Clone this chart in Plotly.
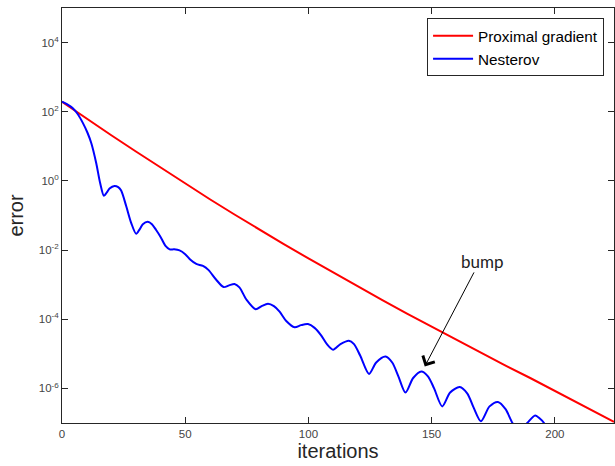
import math
import plotly.graph_objects as go

# ---- data ----
prox_iter = [0, 10, 20, 30, 40, 50, 60, 70, 80, 90, 100, 110, 120, 130, 140,
             150, 160, 170, 180, 190, 200, 210, 220, 224]
prox_err = [1.95e2, 6.31e1, 2.09e1, 7.08, 2.45, 8.32e-1, 2.95e-1, 1.07e-1,
            3.89e-2, 1.48e-2, 5.75e-3, 2.24e-3, 8.91e-4, 3.55e-4, 1.45e-4,
            6.03e-5, 2.51e-5, 1.07e-5, 4.57e-6, 2.00e-6, 8.51e-7, 3.63e-7,
            1.51e-7, 1.07e-7]

nest_iter = [0, 2, 4.4, 6.5, 8.5, 10.3, 11.9, 13.9, 15.5, 17.0, 18.2, 19.3,
             21.3, 22.8, 24.0, 26.1, 28.1, 30.1, 31.5, 32.8, 34.8, 36.5, 38.2,
             40, 42, 43.7, 45.5, 47.7, 50, 52, 54.5, 57.2, 59.5, 62.5, 65.6,
             67.8, 70, 72, 75, 78.6, 81, 83.6, 86, 88.3, 91, 94.4, 97, 99.8,
             102.5, 105, 107.5, 110, 113, 116.4, 118.5, 121, 124.6, 127.5,
             131.3, 134, 136.5, 139.4, 142.5, 145.8, 148.5, 151, 154.3, 157.5,
             161.4, 164.5, 167, 170, 173.5, 176.9, 180, 182.8, 185.5, 188.8,
             192, 194, 195.6, 198]
nest_err = [1.95e2, 1.66e2, 1.26e2, 8.32e1, 4.68e1, 2.51e1, 1.23e1, 3.24,
            8.51e-1, 3.72e-1, 4.68e-1, 6.03e-1, 7.16e-1, 6.61e-1, 5.25e-1,
            1.82e-1, 6.03e-2, 2.95e-2, 3.98e-2, 5.62e-2, 6.61e-2, 5.62e-2,
            3.80e-2, 2.40e-2, 1.32e-2, 1.05e-2, 1.05e-2, 9.77e-3, 7.59e-3,
            5.37e-3, 3.98e-3, 3.47e-3, 2.63e-3, 1.41e-3, 8.51e-4, 9.55e-4,
            1.05e-3, 8.32e-4, 3.55e-4, 1.95e-4, 2.40e-4, 2.82e-4, 2.40e-4,
            1.66e-4, 8.91e-5, 5.89e-5, 6.76e-5, 7.24e-5, 5.62e-5, 3.55e-5,
            1.91e-5, 1.32e-5, 1.91e-5, 2.40e-5, 1.91e-5, 8.91e-6, 2.63e-6,
            5.62e-6, 8.32e-6, 5.62e-6, 2.24e-6, 7.59e-7, 2.00e-6, 3.09e-6,
            2.24e-6, 1.00e-6, 3.02e-7, 7.59e-7, 1.10e-6, 7.08e-7, 2.82e-7,
            1.12e-7, 3.02e-7, 4.07e-7, 2.51e-7, 1.00e-7, 5.62e-8, 1.00e-7,
            1.66e-7, 1.32e-7, 1.00e-7, 3.98e-8]

x_ticks = [0, 50, 100, 150, 200]
y_tick_vals = [1e-6, 1e-4, 1e-2, 1e0, 1e2, 1e4]
y_tick_text = ["10<sup>-6</sup>", "10<sup>-4</sup>", "10<sup>-2</sup>",
               "10<sup>0</sup>", "10<sup>2</sup>", "10<sup>4</sup>"]

# annotation: bump arrow tip, arrow tail and label position
bump_tip = (147.2, 4.3e-6)
bump_tail = (167.5, 2.5e-3)
bump_text = (170.6, 4.7e-3)

fig = go.Figure()
fig.add_trace(go.Scatter(x=prox_iter, y=prox_err, mode="lines",
                         name="Proximal gradient",
                         line=dict(color="#ff0000", width=2)))
fig.add_trace(go.Scatter(x=nest_iter, y=nest_err, mode="lines",
                         name="Nesterov",
                         line=dict(color="#0000ff", width=2, shape="spline",
                                   smoothing=0.8)))

fig.add_annotation(x=bump_tip[0], y=math.log10(bump_tip[1]),
                   ax=bump_tail[0], ay=math.log10(bump_tail[1]),
                   xref="x", yref="y", axref="x", ayref="y",
                   showarrow=True, arrowhead=4, arrowsize=2.6,
                   arrowwidth=1, arrowcolor="#000000", text="")
fig.add_annotation(x=bump_text[0], y=math.log10(bump_text[1]),
                   xref="x", yref="y", text="bump", showarrow=False,
                   font=dict(family="Lato", size=17, color="#222222"))

axis_common = dict(showline=True, linecolor="#262626", linewidth=1,
                   mirror="ticks", ticks="inside", ticklen=6,
                   tickcolor="#262626", showgrid=False, zeroline=False,
                   tickfont=dict(family="Liberation Sans, Arial", size=11.5,
                                 color="#444444"))

fig.update_layout(
    width=615, height=466,
    margin=dict(l=62, r=1, t=8, b=43),
    paper_bgcolor="white", plot_bgcolor="white",
    xaxis=dict(range=[0, 224], tickvals=x_ticks,
               title=dict(text="iterations", standoff=0,
                          font=dict(family="Liberation Sans, Arial", size=20,
                                    color="#262626")),
               **axis_common),
    yaxis=dict(type="log", range=[-7, 5], tickvals=y_tick_vals,
               ticktext=y_tick_text,
               title=dict(text="error", standoff=9,
                          font=dict(family="Liberation Sans, Arial", size=20,
                                    color="#262626")),
               **axis_common),
    legend=dict(x=0.982, y=0.975, xanchor="right", yanchor="top",
                bordercolor="#262626", borderwidth=1, bgcolor="white",
                font=dict(family="Liberation Sans, Arial", size=15.3,
                          color="#000000"),
                tracegroupgap=0, itemwidth=40),
    showlegend=True,
)

fig.write_html("out.html", config={"displayModeBar": False},
               post_script="document.body.style.margin='0';"
                           "document.body.style.overflow='hidden';")
